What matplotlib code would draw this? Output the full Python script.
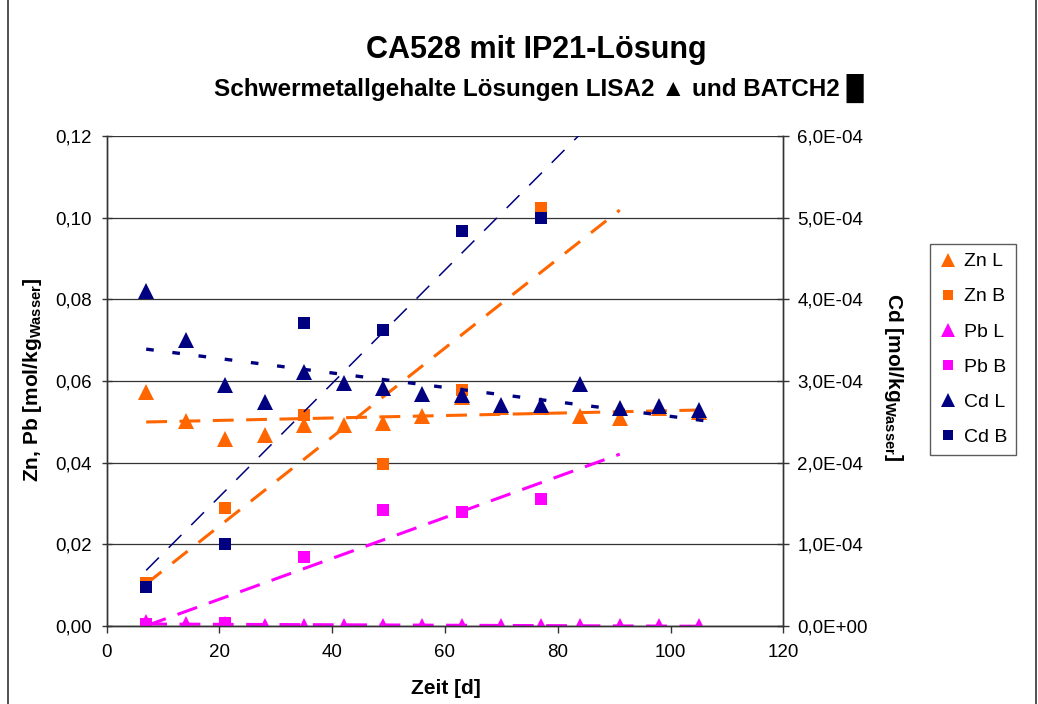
import numpy as np
import matplotlib.pyplot as plt
from matplotlib.lines import Line2D

plt.rcParams['font.family'] = ['Liberation Sans', 'DejaVu Sans']
plt.rcParams['mathtext.fontset'] = 'custom'
plt.rcParams['mathtext.rm'] = 'Liberation Sans'
plt.rcParams['mathtext.bf'] = 'Liberation Sans:bold'
plt.rcParams['lines.scale_dashes'] = False

# Versuchstage
tage_L = [7, 14, 21, 28, 35, 42, 49, 56, 63, 70, 77, 84, 91, 98, 105]
tage_B = [7, 21, 35, 49, 63, 77]

# Zn, Pb [mol/kg Wasser]
zn_L = [0.0573, 0.0502, 0.0458, 0.0468, 0.0492, 0.0492, 0.0497, 0.0515,
        0.0560, 0.0537, 0.0537, 0.0515, 0.0510, 0.0533, 0.0525]
zn_B = [0.0105, 0.0288, 0.0517, 0.0397, 0.0578, 0.1023]
pb_L = [0.0010, 0.0006, 0.0004, 0.0001, 0.0001, 0.0001, 0.0001, 0.0001,
        0.0001, 0.0001, 0.0001, 0.0001, 0.0001, 0.0001, 0.0001]
pb_B = [0.0005, 0.0007, 0.0170, 0.0284, 0.0278, 0.0310]

# Cd [mol/kg Wasser]
cd_L = [4.10e-4, 3.50e-4, 2.95e-4, 2.74e-4, 3.11e-4, 2.98e-4, 2.91e-4, 2.84e-4,
        2.83e-4, 2.71e-4, 2.71e-4, 2.96e-4, 2.67e-4, 2.69e-4, 2.65e-4]
cd_B = [0.48e-4, 1.01e-4, 3.71e-4, 3.62e-4, 4.84e-4, 5.00e-4]

ORANGE = '#FF6600'
MAGENTA = '#FF00FF'
NAVY = '#000080'

fig = plt.figure(figsize=(10.38, 7.04), dpi=100)
ax = fig.add_axes([0.1028, 0.1108, 0.6518, 0.696])
ax2 = ax.twinx()


def trend(a, x, y, color, lw, dashes, vorwaerts):
    x = np.asarray(x, float)
    y = np.asarray(y, float)
    k, d = np.polyfit(x, y, 1)
    xs = np.array([x.min(), x.max() + vorwaerts])
    a.plot(xs, k * xs + d, color=color, lw=lw, dashes=dashes,
           solid_capstyle='butt', dash_capstyle='butt', zorder=2)


h = []
h += ax.plot(tage_L, zn_L, '^', color=ORANGE, ms=12, mew=0, label='Zn L', zorder=3)
h += ax.plot(tage_B, zn_B, 's', color=ORANGE, ms=8.6, mew=0, label='Zn B', zorder=3)
h += ax.plot(tage_L, pb_L, '^', color=MAGENTA, ms=12, mew=0, label='Pb L', zorder=3)
h += ax.plot(tage_B, pb_B, 's', color=MAGENTA, ms=8.6, mew=0, label='Pb B', zorder=3)
h += ax2.plot(tage_L, cd_L, '^', color=NAVY, ms=12, mew=0, label='Cd L', zorder=3)
h += ax2.plot(tage_B, cd_B, 's', color=NAVY, ms=8.6, mew=0, label='Cd B', zorder=3)

trend(ax, tage_L, zn_L, ORANGE, 2.2, (15, 9), 2.5)
trend(ax, tage_B, zn_B, ORANGE, 2.2, (14, 10), 14)
trend(ax, tage_L, pb_L, MAGENTA, 2.2, (15, 9), 2.5)
trend(ax, tage_B, pb_B, MAGENTA, 2.2, (15, 9), 14)
trend(ax2, tage_L, cd_L, NAVY, 2.4, (5.5, 13.5), 2.5)
trend(ax2, tage_B, cd_B, NAVY, 1.1, (13, 10), 14)

ax.set_xlim(0, 120)
ax.set_ylim(0, 0.12)
ax2.set_ylim(0, 6e-4)
ax.set_xticks(np.arange(0, 121, 20))
ax.set_yticks(np.arange(0, 0.121, 0.02))
ax2.set_yticks(np.arange(0, 6.01e-4, 1e-4))
ax.set_yticklabels([f'{v:.2f}'.replace('.', ',') for v in ax.get_yticks()])
ax2.set_yticklabels([f'{v:.1E}'.replace('.', ',') for v in ax2.get_yticks()])

ax.grid(axis='y', color='#333333', lw=0.9, zorder=0)
ax.set_axisbelow(True)
for a in (ax, ax2):
    a.spines['top'].set_visible(False)
    for s in ('left', 'right', 'bottom'):
        a.spines[s].set_color('#333333')
        a.spines[s].set_linewidth(1.0)
ax.tick_params(axis='x', direction='out', length=5, width=1, pad=8,
               labelsize=13.5, color='#333333')
ax.tick_params(axis='y', direction='inout', length=7, width=1, pad=7,
               labelsize=13.5, color='#333333')
ax2.tick_params(axis='y', direction='inout', length=8, width=1, pad=6,
                labelsize=13.5, color='#333333')

# Beschriftungen
fig.text(0.5164, 1 - 50 / 704, 'CA528 mit IP21-Lösung', ha='center', va='center',
         fontsize=22, fontweight='bold')
fig.text(0.519, 1 - 88 / 704, 'Schwermetallgehalte Lösungen LISA2 ▲ und BATCH2 █',
         ha='center', va='center', fontsize=17.5, fontweight='bold')
fig.text(446 / 1038, 1 - 688 / 704, 'Zeit [d]', ha='center', va='center',
         fontsize=15, fontweight='bold')
fig.text(33 / 1038, 1 - 380 / 704, r'Zn, Pb [mol/kg$_\mathbf{Wasser}$]', rotation=90,
         ha='center', va='center', fontsize=15, fontweight='bold')
fig.text(894 / 1038, 1 - 377 / 704, r'Cd [mol/kg$_\mathbf{Wasser}$]', rotation=-90,
         ha='center', va='center', fontsize=15, fontweight='bold')

leg = fig.legend(handles=h, loc='upper left', bbox_to_anchor=(930 / 1038, 1 - 244 / 704),
                 fontsize=14, frameon=True, fancybox=False, edgecolor='#333333',
                 handlelength=0.9, handletextpad=0.4, labelspacing=0.9,
                 borderpad=0.45, borderaxespad=0, markerscale=0.85)
leg.get_frame().set_linewidth(1.0)

# Rahmen des Diagrammbereichs
fig.add_artist(Line2D([7.5 / 1038, 7.5 / 1038], [0, 1], color='#333333', lw=1.2))
fig.add_artist(Line2D([1035.5 / 1038, 1035.5 / 1038], [0, 1], color='#333333', lw=1.2))

fig.savefig('out.png', dpi=100)
